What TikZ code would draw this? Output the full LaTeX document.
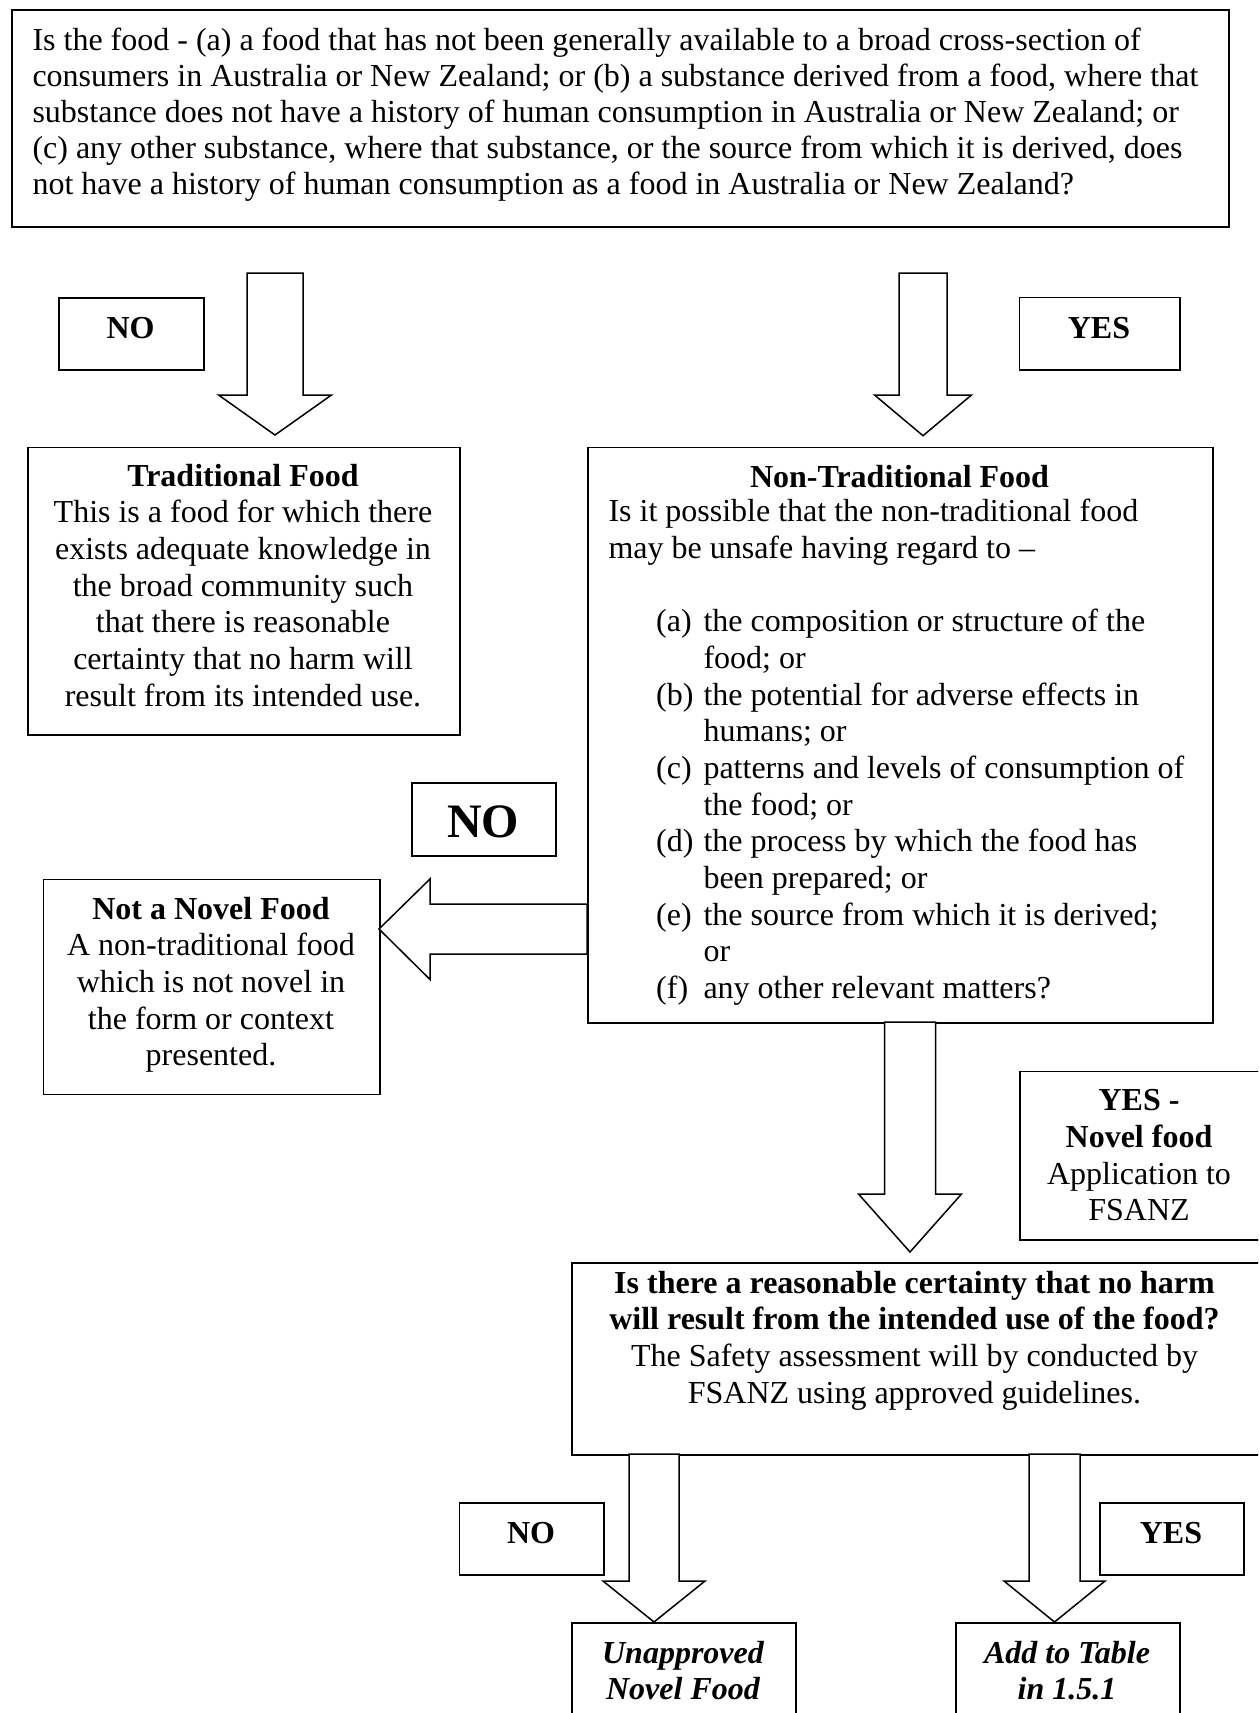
\documentclass[tikz,border=0pt]{standalone}
\usepackage{fontspec}
\setmainfont{Liberation Serif}
\usetikzlibrary{calc}
\tikzset{
  box/.style={draw, line width=1.5pt, inner sep=0pt, anchor=north west},
  txt/.style={inner sep=0pt, anchor=base, font=\fontsize{32}{36.67}\selectfont},
  txtl/.style={txt, anchor=base west},
  bigtxt/.style={inner sep=0pt, anchor=base, font=\fontsize{48}{54}\selectfont\bfseries},
  blockarrow/.style={draw, line width=1.5pt, fill=white, line join=miter},
}
\newcommand\mybox[6][]{% opts, name, x1, y1, x2, y2
  \node[box, #1, minimum width={(#5-#3)*1pt}, minimum height={(#6-#4)*1pt}] (#2) at (#3,#4) {};}
\newcommand\darrow[6]{% cx top headtop tip halfshaft halfhead
  \draw[blockarrow] ({#1-#5},#2) -- ({#1+#5},#2) -- ({#1+#5},#3) -- ({#1+#6},#3)
    -- (#1,#4) -- ({#1-#6},#3) -- ({#1-#5},#3) -- cycle;}
\begin{document}
\begin{tikzpicture}[x=1pt,y=-1pt]
\useasboundingbox (0,0) rectangle (1258,1713);
\clip (0,0) rectangle (1258,1713);
\fill[white] (0,0) rectangle (1258,1713);

% boxes
\mybox[line width=2pt]{q}{11}{9}{1228}{225.5}
\mybox{noA}{58}{297}{203}{369}
\mybox{yesA}{1018.7}{296.7}{1179.3}{369}
\mybox{trad}{27}{446.5}{459}{734}
\mybox{nontrad}{587}{446.5}{1212}{1022}
\mybox{noB}{411}{782}{555}{855}
\mybox{notnovel}{42.7}{878.5}{379}{1093.6}
\mybox{yesB}{1019}{1070.7}{1268}{1239}
\mybox{safety}{571}{1262}{1268}{1454}
\mybox{noC}{458.5}{1502}{603}{1574}
\mybox{yesC}{1099}{1502}{1243}{1574}
\mybox{unapp}{571}{1622}{795}{1720}
\mybox{addt}{955}{1622}{1179}{1720}

% block arrows
\darrow{275}{273}{395}{435}{28}{56.5}
\darrow{923}{273}{395}{435.7}{24}{48.5}
\darrow{910}{1022}{1194}{1252}{25.5}{51.5}
\darrow{654}{1454}{1581}{1622}{25}{51}
\darrow{1054.5}{1454}{1581}{1622}{25.5}{50.5}
\draw[blockarrow] (587,904) -- (430,904) -- (430,879) -- (379,929)
  -- (430,979.5) -- (430,954) -- (587,954) -- cycle;

% texts
\node[txtl, font=\fontsize{32}{36.2}\selectfont] (qt) at (32.3,50) {\parbox[t]{1220pt}{\raggedright
Is the food - (a) a food that has not been generally available to a broad cross-section of\\
consumers in Australia or New Zealand; or (b) a substance derived from a food, where that\\
substance does not have a history of human consumption in Australia or New Zealand; or\\
(c) any other substance, where that substance, or the source from which it is derived, does\\
not have a history of human consumption as a food in Australia or New Zealand?}};

\node[txt] (noAt) at (130.5,338) {\textbf{NO}};
\node[txt] (yesAt) at (1099,338) {\textbf{YES}};

\node[txt] (tradt) at (243,486) {\parbox[t]{440pt}{\centering
\textbf{Traditional Food}\\
This is a food for which there\\
exists adequate knowledge in\\
the broad community such\\
that there is reasonable\\
certainty that no harm will\\
result from its intended use.}};

\node[txt] (nontradh) at (899.5,487) {\textbf{Non-Traditional Food}};
\node[txtl] (nontradt) at (608.3,521.7) {\parbox[t]{640pt}{\raggedright
Is it possible that the non-traditional food\\
may be unsafe having regard to –}};
\node[txtl] (nontradl) at (656,631.7) {\parbox[t]{60pt}{\raggedright
(a)\\ \mbox{}\\ (b)\\ \mbox{}\\ (c)\\ \mbox{}\\ (d)\\ \mbox{}\\ (e)\\ \mbox{}\\ (f)}};
\node[txtl] (nontradi) at (703.3,631.7) {\parbox[t]{540pt}{\raggedright
the composition or structure of the\\
food; or\\
the potential for adverse effects in\\
humans; or\\
patterns and levels of consumption of\\
the food; or\\
the process by which the food has\\
been prepared; or\\
the source from which it is derived;\\
or\\
any other relevant matters?}};

\node[bigtxt] (noBt) at (483,837.7) {NO};

\node[txt] (notnovelt) at (211,919) {\parbox[t]{380pt}{\centering
\textbf{Not a Novel Food}\\
A non-traditional food\\
which is not novel in\\
the form or context\\
presented.}};

\node[txt] (yesBt) at (1139,1110.7) {\parbox[t]{260pt}{\centering
\textbf{YES -}\\
\textbf{Novel food}\\
Application to\\
FSANZ}};

\node[txt] (safetyt) at (914.5,1293.3) {\parbox[t]{700pt}{\centering
\textbf{Is there a reasonable certainty that no harm}\\
\textbf{will result from the intended use of the food?}\\
The Safety assessment will by conducted by\\
FSANZ using approved guidelines.}};

\node[txt] (noCt) at (531,1543) {\textbf{NO}};
\node[txt] (yesCt) at (1171,1543) {\textbf{YES}};

\node[txt] (unappt) at (683,1663) {\parbox[t]{240pt}{\centering\bfseries\itshape
Unapproved\\ Novel Food}};
\node[txt] (addtt) at (1067,1663) {\parbox[t]{240pt}{\centering\bfseries\itshape
Add to Table\\ in 1.5.1}};
\end{tikzpicture}
\end{document}
